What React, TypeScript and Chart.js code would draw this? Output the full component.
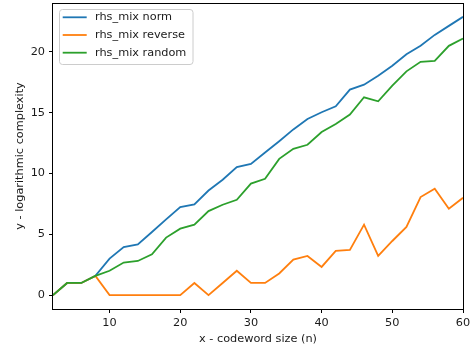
import React, { useEffect, useRef } from "react";
import { Chart, registerables } from "chart.js";

Chart.register(...registerables);

const xValues = [2, 4, 6, 8, 10, 12, 14, 16, 18, 20, 22, 24, 26, 28, 30, 32, 34, 36, 38, 40, 42, 44, 46, 48, 50, 52, 54, 56, 58, 60];
const normValues = [0, 1, 1, 1.58, 3, 3.95, 4.17, 5.19, 6.23, 7.24, 7.46, 8.6, 9.48, 10.52, 10.79, 11.72, 12.65, 13.62, 14.48, 15.03, 15.52, 16.89, 17.3, 18.03, 18.85, 19.8, 20.49, 21.39, 22.13, 22.87];
const reverseValues = [0, 1, 1, 1.58, 0, 0, 0, 0, 0, 0, 1, 0, 1, 2, 1, 1, 1.78, 2.92, 3.22, 2.32, 3.63, 3.72, 5.79, 3.22, 4.45, 5.6, 8.06, 8.74, 7.1, 8.0];
const randomValues = [0, 1, 1, 1.58, 2.0, 2.68, 2.81, 3.36, 4.73, 5.46, 5.79, 6.91, 7.43, 7.84, 9.17, 9.56, 11.2, 12.02, 12.36, 13.4, 14.07, 14.84, 16.26, 15.93, 17.21, 18.39, 19.18, 19.26, 20.49, 21.09];

const xTicks = [10, 20, 30, 40, 50, 60];
const yTicks = [0, 5, 10, 15, 20];
const seriesNames = ["rhs_mix norm", "rhs_mix reverse", "rhs_mix random"];
const seriesColors = ["#1f77b4", "#ff7f0e", "#2ca02c"];

const FONT = "'DejaVu Sans', sans-serif";
const FS = 11.3;
const TEXT_COLOR = "#1a1a1a";

const framePlugin = {
  id: "frameAndLegend",
  afterDraw(chart: any) {
    const { ctx, chartArea } = chart;
    const { left, top, right, bottom } = chartArea;
    ctx.save();
    ctx.strokeStyle = "#000";
    ctx.lineWidth = 1;
    ctx.strokeRect(Math.round(left) - 0.5, Math.round(top) + 0.5, Math.round(right - left) + 1, Math.round(bottom - top));
    const bx = left + 6.5;
    const by = top + 6.5;
    const bw = 133.5;
    const bh = 55;
    const r = 3;
    ctx.beginPath();
    ctx.moveTo(bx + r, by);
    ctx.lineTo(bx + bw - r, by);
    ctx.quadraticCurveTo(bx + bw, by, bx + bw, by + r);
    ctx.lineTo(bx + bw, by + bh - r);
    ctx.quadraticCurveTo(bx + bw, by + bh, bx + bw - r, by + bh);
    ctx.lineTo(bx + r, by + bh);
    ctx.quadraticCurveTo(bx, by + bh, bx, by + bh - r);
    ctx.lineTo(bx, by + r);
    ctx.quadraticCurveTo(bx, by, bx + r, by);
    ctx.closePath();
    ctx.fillStyle = "rgba(255,255,255,0.8)";
    ctx.fill();
    ctx.strokeStyle = "#cccccc";
    ctx.lineWidth = 1;
    ctx.stroke();
    ctx.font = `${FS}px ${FONT}`;
    ctx.textBaseline = "middle";
    ctx.textAlign = "left";
    seriesNames.forEach((name, i) => {
      const y = top + 14.3 + i * 17.7;
      ctx.strokeStyle = seriesColors[i];
      ctx.lineWidth = 1.8;
      ctx.beginPath();
      ctx.moveTo(left + 9.7, y);
      ctx.lineTo(left + 33.7, y);
      ctx.stroke();
      ctx.fillStyle = TEXT_COLOR;
      ctx.fillText(name, left + 42, y);
    });
    ctx.restore();
  },
};

export default function App() {
  const canvasRef = useRef<HTMLCanvasElement | null>(null);

  useEffect(() => {
    document.body.style.margin = "0";
    const canvas = canvasRef.current;
    if (!canvas) return;
    const seriesData = [normValues, reverseValues, randomValues];
    const chart = new Chart(canvas, {
      type: "line",
      data: {
        datasets: seriesData.map((vals, i) => ({
          label: seriesNames[i],
          data: xValues.map((x, j) => ({ x, y: vals[j] })),
          borderColor: seriesColors[i],
          backgroundColor: seriesColors[i],
          borderWidth: 1.8,
          pointRadius: 0,
          tension: 0,
          fill: false,
          order: 3 - i,
        })),
      },
      options: {
        animation: false,
        responsive: false,
        maintainAspectRatio: false,
        layout: { padding: { top: 3, right: 13, left: 0, bottom: 0 } },
        plugins: { legend: { display: false }, tooltip: { enabled: false } },
        scales: {
          x: {
            type: "linear",
            min: 2,
            max: 60,
            afterBuildTicks: (scale: any) => {
              scale.ticks = xTicks.map((v) => ({ value: v }));
            },
            afterFit: (scale: any) => {
              scale.height = 41;
              scale.paddingLeft = 0;
              scale.paddingRight = 0;
            },
            grid: { display: true, drawOnChartArea: false, drawTicks: true, tickLength: 4, color: "#000", lineWidth: 1 },
            border: { display: false },
            ticks: { color: TEXT_COLOR, font: { family: FONT, size: FS }, padding: 3, maxRotation: 0, autoSkip: false },
            title: { display: true, text: "x - codeword size (n)", color: TEXT_COLOR, font: { family: FONT, size: FS }, padding: { top: 0, bottom: 4 } },
          },
          y: {
            type: "linear",
            min: -1.14,
            max: 24.01,
            afterBuildTicks: (scale: any) => {
              scale.ticks = yTicks.map((v) => ({ value: v }));
            },
            afterFit: (scale: any) => {
              scale.width = 53;
              scale.paddingTop = 0;
              scale.paddingBottom = 0;
            },
            grid: { display: true, drawOnChartArea: false, drawTicks: true, tickLength: 4, color: "#000", lineWidth: 1 },
            border: { display: false },
            ticks: { color: TEXT_COLOR, font: { family: FONT, size: FS }, padding: 4, autoSkip: false },
            title: { display: true, text: "y - logarithmic complexity", color: TEXT_COLOR, font: { family: FONT, size: FS }, padding: { top: 13, bottom: 0 } },
          },
        },
      },
      plugins: [framePlugin],
    });
    return () => chart.destroy();
  }, []);

  return (
    <div style={{ width: 476, height: 350 }}>
      <canvas ref={canvasRef} width={476} height={350} style={{ width: 476, height: 350, display: "block" }} />
    </div>
  );
}
